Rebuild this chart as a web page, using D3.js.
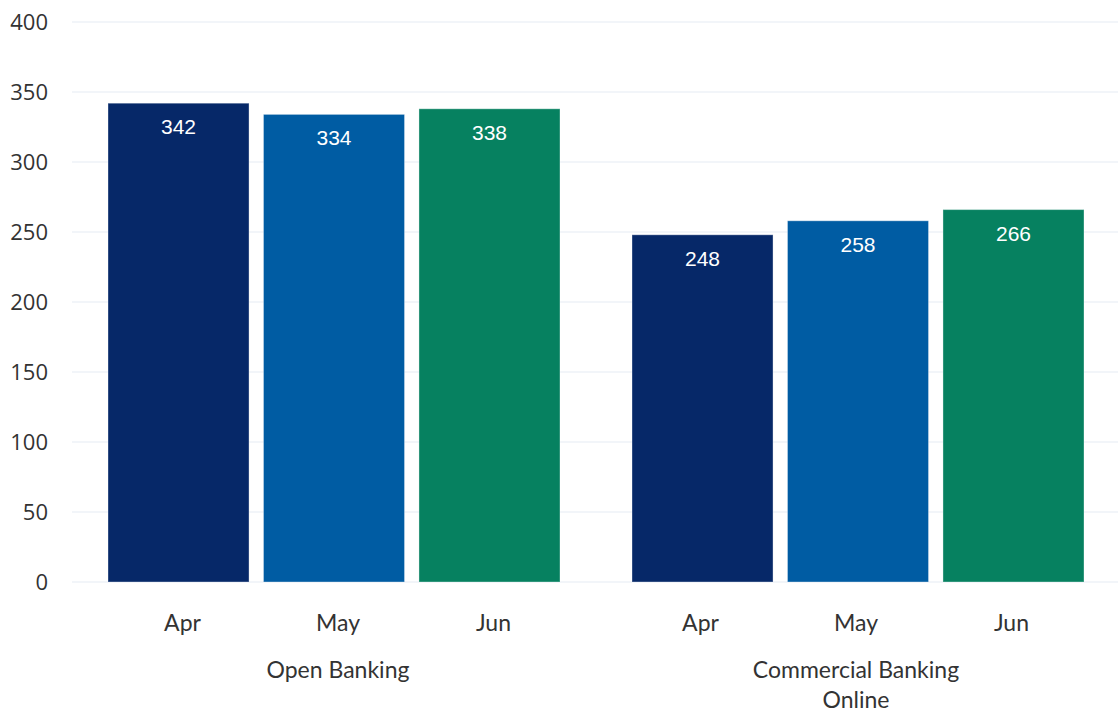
<!DOCTYPE html>
<html><head><meta charset="utf-8">
<script src="https://cdn.jsdelivr.net/npm/d3@7"></script>
<style>html,body{margin:0;padding:0;background:#fff;}</style>
</head><body>
<svg id="chart" width="1118" height="712"></svg>
<script>
const groups = ["Open Banking", "Commercial Banking\nOnline"];
const months = ["Apr", "May", "Jun"];
const aprValues = [342, 248];
const mayValues = [334, 258];
const junValues = [338, 266];
const yTicks = [0, 50, 100, 150, 200, 250, 300, 350, 400];
const colors = ["#062868", "#005ca3", "#068160"];

const series = [aprValues, mayValues, junValues];
const data = [];
groups.forEach((g, gi) => months.forEach((m, mi) => data.push({g, m, v: series[mi][gi], c: colors[mi]})));

const svg = d3.select("#chart");
const mLeft = 72, mRight = 1120, mTop = 22, mBottom = 582;
const labelShift = [4, -2];

const y = d3.scaleLinear().domain([0, 400]).range([mBottom, mTop]);
const x0 = d3.scaleBand().domain(groups).range([mLeft, mRight]).paddingInner(0).paddingOuter(0);
const x1 = d3.scaleBand().domain(months).range([36, x0.bandwidth() - 36]).paddingInner(0.093).paddingOuter(0);

// gridlines
svg.append("g").selectAll("line").data(yTicks).join("line")
  .attr("x1", mLeft).attr("x2", 1118)
  .attr("y1", d => y(d)).attr("y2", d => y(d))
  .attr("stroke", "#eef2f7").attr("stroke-width", 1.3);

// y axis
const yAxis = d3.axisLeft(y).tickValues(yTicks).tickSize(0).tickPadding(0);
const ya = svg.append("g").attr("transform", "translate(48,0)").call(yAxis);
ya.select(".domain").remove();
ya.attr("font-family", null).attr("font-size", null);
ya.selectAll("text").style("font-family", "'Open Sans', sans-serif").style("font-size", "22px").attr("fill", "#333").attr("dy", "0.35em");

// bars
const gg = svg.append("g").selectAll("g").data(groups).join("g")
  .attr("transform", d => `translate(${x0(d)},0)`);
gg.selectAll("rect").data(g => data.filter(d => d.g === g)).join("rect")
  .attr("x", d => x1(d.m)).attr("width", x1.bandwidth())
  .attr("y", d => y(d.v)).attr("height", d => y(0) - y(d.v))
  .attr("fill", d => d.c).attr("stroke", "#ffffff").attr("stroke-opacity", 0.35).attr("stroke-width", 1);
gg.selectAll("text.val").data(g => data.filter(d => d.g === g)).join("text")
  .attr("class", "val")
  .attr("x", d => x1(d.m) + x1.bandwidth() / 2).attr("y", d => y(d.v) + 31)
  .attr("text-anchor", "middle").attr("font-family", "'Liberation Sans', Arial, sans-serif")
  .attr("font-size", 21).attr("fill", "#fff").text(d => d.v);

// month labels
gg.selectAll("text.mon").data((g, gi) => months.map(m => ({m, gi}))).join("text")
  .attr("class", "mon")
  .attr("x", d => x1(d.m) + x1.bandwidth() / 2 + labelShift[d.gi]).attr("y", 631)
  .attr("text-anchor", "middle").attr("font-family", "Lato, sans-serif")
  .attr("font-size", 23).attr("fill", "#333").text(d => d.m);

// group labels
gg.append("text").attr("y", 678)
  .attr("text-anchor", "middle").attr("font-family", "Lato, sans-serif")
  .attr("font-size", 23).attr("fill", "#333")
  .selectAll("tspan").data((d, gi) => d.split("\n").map(t => ({t, gi}))).join("tspan")
  .attr("x", d => x0.bandwidth() / 2 + labelShift[d.gi]).attr("dy", (d, i) => i === 0 ? 0 : 30).text(d => d.t);
</script>
</body></html>
